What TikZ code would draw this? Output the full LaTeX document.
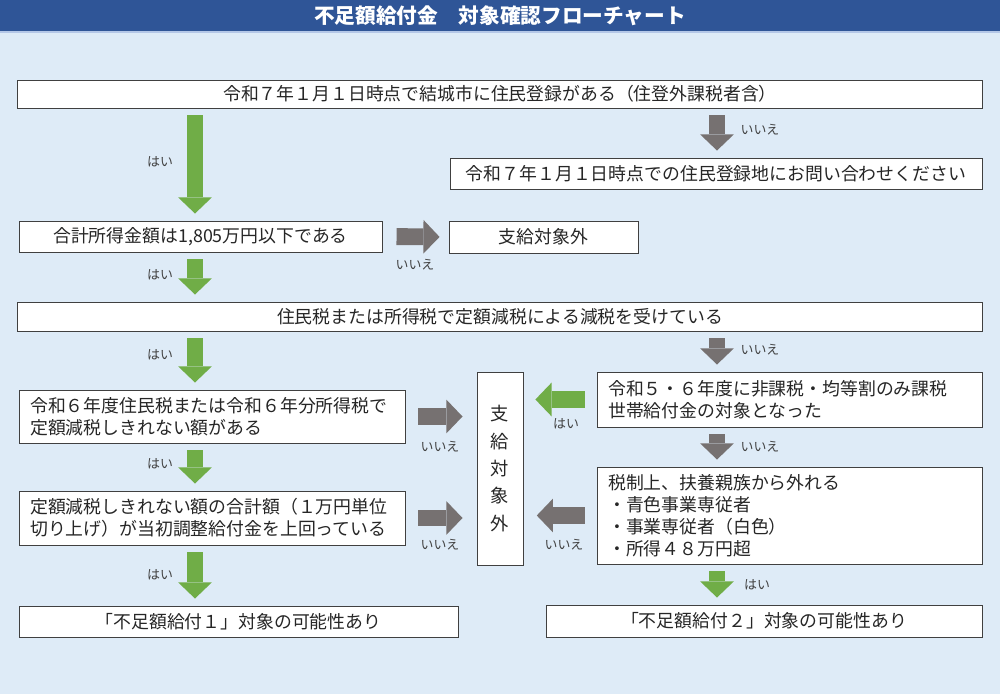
\documentclass[tikz,border=0pt]{standalone}
\usepackage{fontspec}
\setmainfont{Noto Sans CJK JP}
\usetikzlibrary{arrows.meta}

\definecolor{bgblue}{HTML}{DEEBF7}
\definecolor{headblue}{HTML}{2F5597}
\definecolor{headline}{HTML}{B4C7E7}
\definecolor{arrgreen}{HTML}{70AD47}
\definecolor{arrgrey}{HTML}{767171}
\definecolor{txt}{HTML}{262626}
\definecolor{lbltxt}{HTML}{404040}

\tikzset{
  box/.style={draw=black!75, line width=0.6pt, fill=white, inner sep=0pt, text=txt,
    align=center, font=\fontsize{12.7}{15.6}\selectfont},
  lbox/.style={box, align=left, inner xsep=8pt},
  garrow/.style={draw=arrgreen, line width=12pt,
    -{Triangle[length=11.5pt,width=24pt,line width=0pt]}, shorten <=5pt, shorten >=5pt},
  karrow/.style={garrow, draw=arrgrey},
  lbl/.style={text=lbltxt, font=\fontsize{9.2}{11}\selectfont}
}

\begin{document}
\begin{tikzpicture}[x=0.025cm, y=-0.025cm]
    \pgfmathsetmacro{\xleft}{195}
    \pgfmathsetmacro{\xright}{717}

    \fill[bgblue] (0,0) rectangle (1000,694);
    \fill[headblue] (0,0) rectangle (1000,31);
    \fill[headline] (0,31) rectangle (1000,33);
    \useasboundingbox (0,0) rectangle (1000,694);

    \node[text=white, font=\bfseries\fontsize{14.7}{16}\selectfont] (title) at (500,15.5) {不足額給付金　対象確認フローチャート};

    \node[box, minimum width=24.1cm, minimum height=0.7cm] (resident) at (500,94) {令和７年１月１日時点で結城市に住民登録がある（住登外課税者含）};
    \node[box, minimum width=13.3cm, minimum height=0.775cm] (inquire) at (716,173.5) {令和７年１月１日時点での住民登録地にお問い合わせください};
    \node[box, minimum width=9.075cm, minimum height=0.775cm] (income) at (200.5,236.5) {合計所得金額は1,805万円以下である};
    \node[box, minimum width=4.725cm, minimum height=0.8cm] (outsmall) at (543.5,237) {支給対象外};
    \node[box, minimum width=24.1cm, minimum height=0.725cm] (reduced) at (500,316.5) {住民税または所得税で定額減税による減税を受けている};

    \node[lbox, text width=9.086cm, minimum height=1.325cm] (leftover) at (212,416.5) {令和６年度住民税または令和６年分所得税で\\定額減税しきれない額がある};
    \node[lbox, text width=9.086cm, minimum height=1.35cm] (exceed) at (212,518) {定額減税しきれない額の合計額（１万円単位\\切り上げ）が当初調整給付金を上回っている};
    \node[box, minimum width=1.15cm, minimum height=4.825cm, font=\fontsize{13}{19.5}\selectfont] (outbig) at (500,468.5) {支\\給\\対\\象\\外};
    \node[lbox, text width=9.061cm, minimum height=1.375cm] (nontax) at (789.5,399.5) {令和５・６年度に非課税・均等割のみ課税\\世帯給付金の対象となった};
    \node[lbox, text width=9.061cm, minimum height=2.425cm] (depend) at (789.5,515.5) {税制上、扶養親族から外れる\\・青色事業専従者\\・事業専従者（白色）\\・所得４８万円超};

    \node[box, minimum width=10.975cm, minimum height=0.775cm] (result1) at (238.5,621.5) {「不足額給付１」対象の可能性あり};
    \node[box, minimum width=10.9cm, minimum height=0.8cm] (result2) at (764,621) {「不足額給付２」対象の可能性あり};

    \coordinate (colL) at (\xleft,0);
    \coordinate (colR) at (\xright,0);

    %Arrows down the left column
    \draw[garrow] (resident.south -| colL) -- (income.north -| colL);
    \draw[garrow] (income.south -| colL) -- (reduced.north -| colL);
    \draw[garrow] (reduced.south -| colL) -- (leftover.north -| colL);
    \draw[garrow] (leftover.south -| colL) -- (exceed.north -| colL);
    \draw[garrow] (exceed.south -| colL) -- (result1.north -| colL);

    %Arrows down the right column
    \draw[karrow] (resident.south -| colR) -- (inquire.north -| colR);
    \draw[karrow] (reduced.south -| colR) -- (nontax.north -| colR);
    \draw[karrow] (nontax.south -| colR) -- (depend.north -| colR);
    \draw[garrow] (depend.south -| colR) -- (result2.north -| colR);

    %Arrows into the excluded boxes
    \draw[karrow, shorten <=10pt, shorten >=6.4pt] (income.east) -- (outsmall.west);
    \draw[karrow, shorten <=9pt, shorten >=10pt] (leftover.east) -- (leftover.east -| outbig.west);
    \draw[karrow, shorten <=9pt, shorten >=10pt] (exceed.east) -- (exceed.east -| outbig.west);
    \draw[garrow, shorten <=8.5pt, shorten >=8.5pt] (nontax.west) -- (nontax.west -| outbig.east);
    \draw[karrow, shorten <=8.5pt, shorten >=9.5pt] (depend.west) -- (depend.west -| outbig.east);

    \node[lbl] (yes1) at (160,162) {はい};
    \node[lbl] (no1) at (760,130) {いいえ};
    \node[lbl] (no2) at (415,265) {いいえ};
    \node[lbl] (yes2) at (160,275) {はい};
    \node[lbl] (yes3) at (160,355) {はい};
    \node[lbl] (no3) at (760,350) {いいえ};
    \node[lbl] (no4) at (440,447) {いいえ};
    \node[lbl] (yes4) at (566,424) {はい};
    \node[lbl] (yes5) at (160,464) {はい};
    \node[lbl] (no5) at (760,447) {いいえ};
    \node[lbl] (no6) at (440,545) {いいえ};
    \node[lbl] (no7) at (564,545) {いいえ};
    \node[lbl] (yes6) at (160,575) {はい};
    \node[lbl] (yes7) at (757,585) {はい};
\end{tikzpicture}
\end{document}
